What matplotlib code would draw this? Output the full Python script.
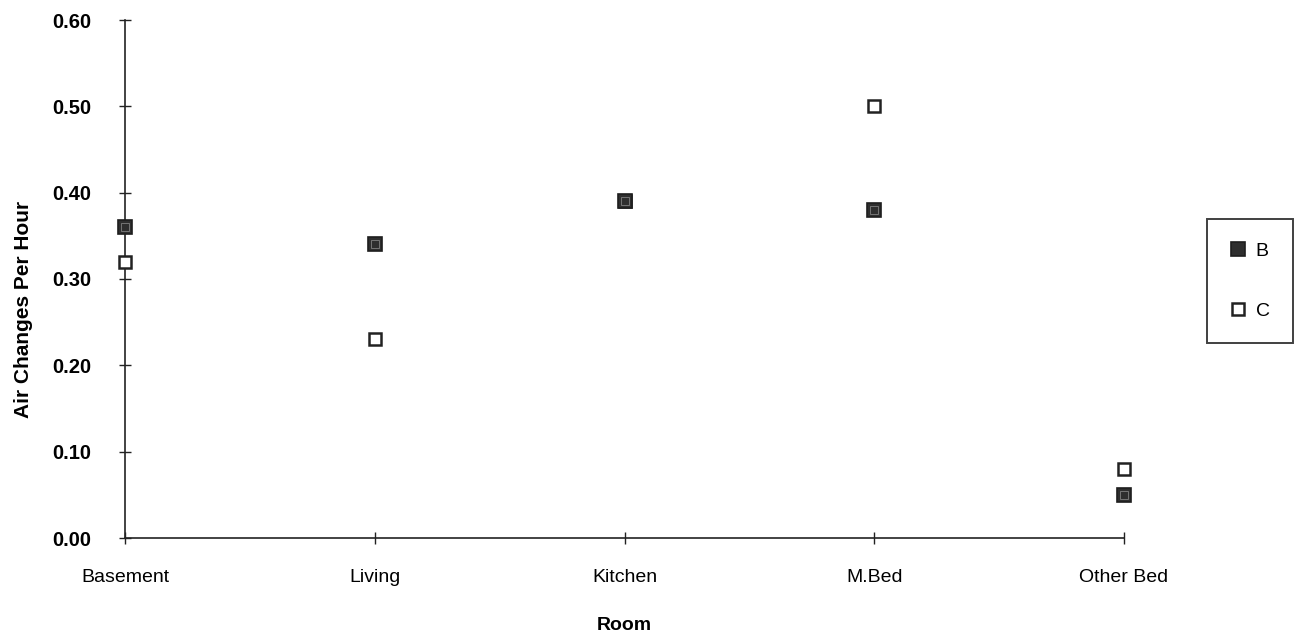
import matplotlib
matplotlib.use('Agg')
import matplotlib.pyplot as plt
import numpy as np

rooms = ['Basement', 'Living', 'Kitchen', 'M.Bed', 'Other Bed']
series_b = [0.36, 0.34, 0.39, 0.38, 0.05]
series_c = [0.32, 0.23, 0.39, 0.50, 0.08]
y_ticks = [0.0, 0.1, 0.2, 0.3, 0.4, 0.5, 0.6]

plt.rcParams['font.family'] = ['Liberation Sans', 'DejaVu Sans']

fig = plt.figure(figsize=(12.98, 6.36), dpi=100)
ax = fig.add_axes([125 / 1298, 1 - 538 / 636, (1124 - 125) / 1298, (538 - 20) / 636])

x = np.arange(len(rooms))

# open squares for C, filled squares for B drawn on top
ax.plot(x, series_c, ls='none', marker='s', ms=8.5, mfc='white', mec='#222222',
        mew=1.8, label='C', zorder=3, clip_on=False)
ax.plot(x, series_b, ls='none', marker='s', ms=10, mfc='#2e2e2e', mec='#1e1e1e',
        mew=1.2, label='B', zorder=4, clip_on=False)
ax.plot(x, series_b, ls='none', marker='s', ms=5.5, mfc='none', mec='#808080',
        mew=0.6, zorder=5, clip_on=False)

ax.set_xlim(0, len(rooms) - 1)
ax.set_ylim(0, 0.6)
ax.set_xticks(x)
ax.set_xticklabels(rooms, fontsize=14)
ax.set_yticks(y_ticks)
ax.set_yticklabels(['%.2f' % v for v in y_ticks], fontsize=14.5, fontweight='bold')
ax.tick_params(axis='both', direction='inout', length=9, width=1, color='#222222')
ax.tick_params(axis='x', pad=18)
ax.tick_params(axis='y', pad=20)

for side in ['top', 'right']:
    ax.spines[side].set_visible(False)
for side in ['left', 'bottom']:
    ax.spines[side].set_color('#222222')
    ax.spines[side].set_linewidth(1.2)

ax.set_xlabel('Room', fontsize=14, fontweight='bold', labelpad=22)
ax.set_ylabel('Air Changes Per Hour', fontsize=15, fontweight='bold')
ax.yaxis.set_label_coords(-0.092, 0.442)

handles, labels = ax.get_legend_handles_labels()
leg = fig.legend(handles[::-1], labels[::-1], loc='center left',
                 bbox_to_anchor=(1207 / 1298, 1 - 281 / 636), fontsize=14,
                 frameon=True, fancybox=False, edgecolor='#111111',
                 labelspacing=2.2, borderpad=1.2, handlelength=0.8,
                 handletextpad=0.5, borderaxespad=0)
leg.get_frame().set_linewidth(1.4)

fig.savefig('out.png', dpi=100, facecolor='white')
